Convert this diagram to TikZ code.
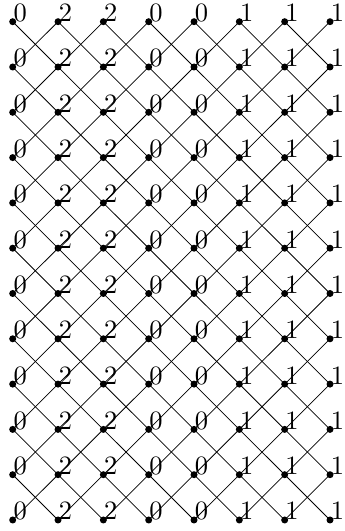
\documentclass[tikz,border=0pt]{standalone}
\usepackage{fontspec}
\setmainfont{lmroman10-regular}[Extension=.otf]
\begin{document}
\begin{tikzpicture}[x=1pt,y=1pt,
  dot/.style={circle,fill=black,inner sep=0pt,minimum size=7pt},
  lbl/.style={anchor=base west,inner sep=0.6pt,font=\fontsize{26.5}{28}\selectfont},
  edge/.style={line width=0.75pt,black}]
\useasboundingbox (0,0) rectangle (345,531);
\foreach \i/\t in {0/0,1/2,2/2,3/0,4/0,5/1,6/1,7/1}{
  \foreach \j in {0,...,11}{
    \node[dot] (d-\i-\j) at ({12.7+45.33*\i},{531-21.7-45.3*\j}) {};
    \node[lbl] (l-\i-\j) at (d-\i-\j.center) {\t};
  }
}
\foreach \i in {0,...,6}{
  \pgfmathtruncatemacro{\ni}{\i+1}
  \foreach \j in {0,...,10}{
    \pgfmathtruncatemacro{\nj}{\j+1}
    \draw[edge] (d-\i-\j.center) -- (d-\ni-\nj.center);
    \draw[edge] (d-\ni-\j.center) -- (d-\i-\nj.center);
  }
}
\end{tikzpicture}
\end{document}
